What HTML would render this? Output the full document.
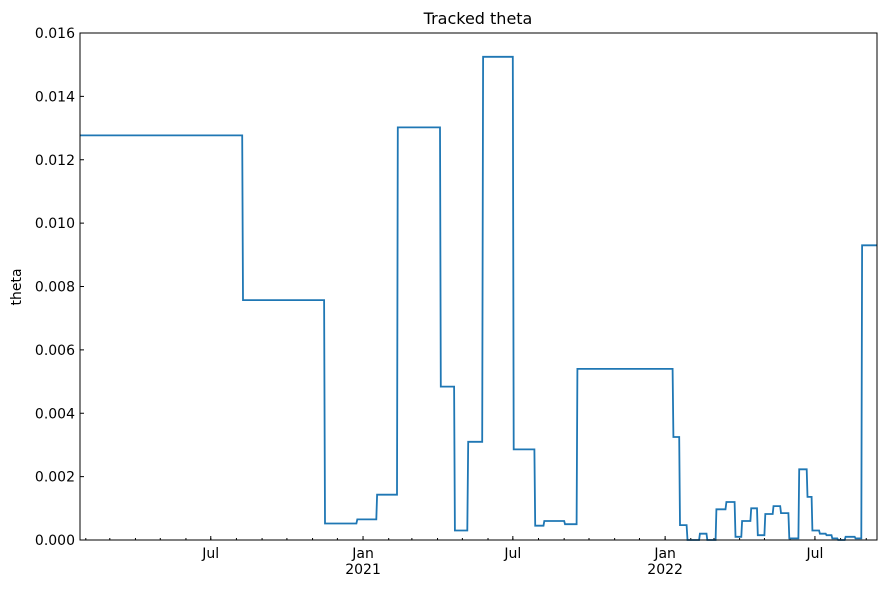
<!DOCTYPE html>
<html><head><meta charset="utf-8"><style>
body{margin:0;background:#fff;}
svg text{font-family:"DejaVu Sans","Liberation Sans",sans-serif;fill:#000;}
</style></head><body>
<svg id="chart" width="887" height="587" xmlns="http://www.w3.org/2000/svg">
<text x="478" y="24" font-size="16" text-anchor="middle">Tracked theta</text>
<text transform="translate(21,287) rotate(-90)" font-size="14" text-anchor="middle">theta</text>
<g id="axes"></g>
<path id="line" fill="none" stroke="#1f77b4" stroke-width="1.8"/>
<rect x="80" y="33" width="797" height="507" fill="none" stroke="#000" stroke-width="1"/>
</svg>
<script>
// days offset from 2021-01-01 where each step begins
const dayOffsets=[-342,-145,-46,-7,17,42,94,111,127,145,182,208,219,244,259,375,383,392,407,416,427,439,450,458,469,477,486,496,505,515,527,537,543,552,560,567,574,583,595,603];
const thetaValues=[0.01277,0.00757,0.00052,0.00065,0.00143,0.01302,0.00484,0.0003,0.0031,0.01525,0.00286,0.00045,0.0006,0.0005,0.0054,0.00325,0.00047,0.0,0.0002,0.0,0.00097,0.0012,0.0001,0.0006,0.001,0.00015,0.00082,0.00107,0.00085,0.00005,0.00223,0.00136,0.0003,0.0002,0.00015,0.00005,0.0,0.0001,0.00005,0.0093];
const endOffset=621;
const yTicks=[0,0.002,0.004,0.006,0.008,0.010,0.012,0.014,0.016];
const yTickLabels=["0.000","0.002","0.004","0.006","0.008","0.010","0.012","0.014","0.016"];
const xMajorOffsets=[-184,0,181,365,546];
const xMajorLabels=["Jul","Jan","Jul","Jan","Jul"];
const xMajorSub=["","2021","","2022",""];
const L=80,R=877,T=33,B=540,d0=-342,d1=621;
const X=d=>L+(d-d0)/(d1-d0)*(R-L);
const Y=v=>B-v/0.016*(B-T);
const NS="http://www.w3.org/2000/svg";
const axes=document.getElementById('axes');
function mk(tag,attrs){const e=document.createElementNS(NS,tag);for(const k in attrs)e.setAttribute(k,attrs[k]);axes.appendChild(e);return e;}
yTicks.forEach((v,i)=>{
  const t=mk('line',{x1:L,x2:L+4,y1:Y(v),y2:Y(v),stroke:'#000'});
  
  
  const tx=mk('text',{x:L-5,y:Y(v)+5,'font-size':14,'text-anchor':'end'});
  tx.textContent=yTickLabels[i];
  
  
});
// monthly minor ticks
for(let m=0;m<33;m++){
  const dt=new Date(Date.UTC(2020,1+m,1));
  const off=(dt-Date.UTC(2021,0,1))/86400000;
  if(off>d1)break;
  const x=X(off);
  const t=mk('line',{x1:x,x2:x,y1:B,y2:B-2,stroke:'#000'});
  
  
}
xMajorOffsets.forEach((d,i)=>{
  const x=X(d);
  const t=mk('line',{x1:x,x2:x,y1:B,y2:B-4,stroke:'#000'});
  
  
  const tx=mk('text',{x:x,y:558,'font-size':14,'text-anchor':'middle'});
  tx.textContent=xMajorLabels[i];
  
  
  if(xMajorSub[i]){
    const s=mk('text',{x:x,y:574,'font-size':14,'text-anchor':'middle'});
    s.textContent=xMajorSub[i];
    
    
  }
});
let p='';
dayOffsets.forEach((d,i)=>{
  const x=X(d),y=Y(thetaValues[i]);
  p+=(i===0?'M':'L')+x.toFixed(1)+','+y.toFixed(1);
  const nx=X(i+1<dayOffsets.length?dayOffsets[i+1]-1:endOffset);
  p+='L'+nx.toFixed(1)+','+y.toFixed(1);
});
document.getElementById('line').setAttribute('d',p);
</script>
</body></html>
